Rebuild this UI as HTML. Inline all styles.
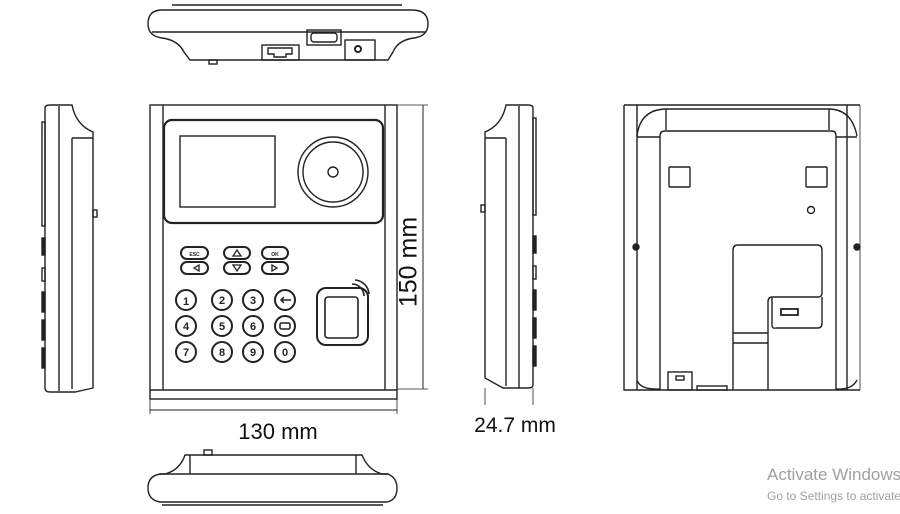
<!DOCTYPE html>
<html><head><meta charset="utf-8"><style>
html,body{margin:0;padding:0;background:#fff;width:900px;height:514px;overflow:hidden}
svg{display:block}
text{font-family:"Liberation Sans",sans-serif}
</style></head><body>
<svg width="900" height="514" viewBox="0 0 900 514" xmlns="http://www.w3.org/2000/svg">
<g fill="none" stroke="#222" stroke-width="1.4">
<!-- TOP VIEW -->
<line x1="172" y1="5" x2="402" y2="5"/>
<path d="M162 10 H412 Q428 10 428 24 Q428 36 414 38 Q398 40 393 52 L388 60 H190 L184 52 Q178 40 162 38 Q148 36 148 24 Q148 10 162 10 Z"/>
<line x1="152" y1="32" x2="425" y2="32"/>
<rect x="307" y="30" width="34" height="15"/>
<rect x="311" y="33" width="26" height="9" rx="3"/>
<rect x="262" y="45" width="37" height="15"/>
<path d="M268 48 h24 v6 h-6 v3 h-12 v-3 h-6z"/>
<rect x="345" y="40" width="30" height="20"/>
<circle cx="358" cy="49" r="3" stroke-width="2"/>
<rect x="209" y="60" width="8" height="4"/>

<!-- FRONT VIEW -->
<rect x="150" y="105" width="247" height="294"/>
<line x1="150" y1="390" x2="397" y2="390"/>
<line x1="163" y1="105" x2="163" y2="390"/>
<line x1="385" y1="105" x2="385" y2="390"/>
<rect x="164" y="120" width="219" height="103" rx="8" stroke-width="2.2"/>
<rect x="180" y="136" width="95" height="71"/>
<circle cx="333" cy="172" r="35"/>
<circle cx="333" cy="172" r="30"/>
<circle cx="333" cy="172" r="5"/>
<g stroke-width="2">
<rect x="181" y="247" width="27" height="12" rx="6"/>
<rect x="224" y="247" width="26" height="12" rx="6"/>
<rect x="262" y="247" width="26" height="12" rx="6"/>
<rect x="181" y="262" width="27" height="12" rx="6"/>
<rect x="224" y="262" width="26" height="12" rx="6"/>
<rect x="262" y="262" width="26" height="12" rx="6"/>
<circle cx="186" cy="300" r="10"/><circle cx="222" cy="300" r="10"/><circle cx="253" cy="300" r="10"/><circle cx="285" cy="300" r="10"/>
<circle cx="186" cy="326" r="10"/><circle cx="222" cy="326" r="10"/><circle cx="253" cy="326" r="10"/><circle cx="285" cy="326" r="10"/>
<circle cx="186" cy="352" r="10"/><circle cx="222" cy="352" r="10"/><circle cx="253" cy="352" r="10"/><circle cx="285" cy="352" r="10"/>
</g>
<path d="M233 256 l4 -6 l4 6z" stroke-width="1.3"/>
<path d="M233 265 l4 6 l4 -6z" stroke-width="1.3"/>
<path d="M199 265 l-5 3 l5 3z" stroke-width="1.3"/>
<path d="M272 265 l5 3 l-5 3z" stroke-width="1.3"/>
<path d="M291 300 h-10 m3 -3 l-3 3 l3 3" stroke-width="1.5"/>
<rect x="280" y="323" width="10" height="6" rx="1.5" stroke-width="1.5"/>
<rect x="317" y="288" width="51" height="57" rx="9" stroke-width="2"/>
<rect x="325" y="297" width="33" height="41" rx="3" stroke-width="1.6"/>
<path d="M352 284 A12 12 0 0 1 364 296" stroke-width="1.6"/>
<path d="M355 280 A15 15 0 0 1 369 294" stroke-width="1.6"/>
<!-- dims -->
<line x1="423" y1="105" x2="423" y2="389" stroke-width="1"/>
<line x1="397" y1="105" x2="428" y2="105" stroke-width="0.8"/>
<line x1="397" y1="389" x2="428" y2="389" stroke-width="0.8"/>
<line x1="150" y1="410" x2="397" y2="410" stroke-width="1"/>
<line x1="150" y1="399" x2="150" y2="414" stroke-width="0.8"/>
<line x1="397" y1="399" x2="397" y2="414" stroke-width="0.8"/>

<!-- LEFT SIDE VIEW -->
<path d="M45 108 Q45 105 50 105 H72 Q76 125 93 132 V388 L75 392 H50 Q45 392 45 388 Z"/>
<line x1="59" y1="106" x2="59" y2="391"/>
<line x1="72" y1="138" x2="72" y2="389"/>
<line x1="72" y1="138" x2="93" y2="138"/>
<rect x="93" y="210" width="4" height="7"/>
<rect x="42" y="122" width="3" height="104"/>
<rect x="42" y="238" width="3" height="17" fill="#222"/>
<rect x="42" y="268" width="3" height="13"/>
<rect x="42" y="292" width="3" height="20" fill="#222"/>
<rect x="42" y="320" width="3" height="20" fill="#222"/>
<rect x="42" y="348" width="3" height="20" fill="#222"/>

<!-- RIGHT SIDE VIEW -->
<path d="M533 108 Q533 105 528 105 H506 Q502 125 485 132 V378 L503 388 H528 Q533 388 533 385 Z"/>
<line x1="519" y1="106" x2="519" y2="388"/>
<line x1="506" y1="138" x2="506" y2="386"/>
<line x1="485" y1="138" x2="506" y2="138"/>
<rect x="481" y="205" width="4" height="7"/>
<rect x="533" y="118" width="3" height="97"/>
<rect x="533" y="236" width="3" height="17" fill="#222"/>
<rect x="533" y="266" width="3" height="13"/>
<rect x="533" y="290" width="3" height="20" fill="#222"/>
<rect x="533" y="318" width="3" height="20" fill="#222"/>
<rect x="533" y="346" width="3" height="20" fill="#222"/>
<line x1="485" y1="388" x2="485" y2="405" stroke-width="0.8"/>
<line x1="533" y1="388" x2="533" y2="405" stroke-width="0.8"/>

<!-- BACK VIEW -->
<path d="M624 105 H860 M624 105 V390 H860"/>
<line x1="860" y1="105" x2="860" y2="390" stroke-width="0.8"/>
<line x1="637" y1="105" x2="637" y2="390"/>
<line x1="847" y1="105" x2="847" y2="390"/>
<path d="M637 136 Q640 110 665 109 H830 Q852 110 857 136"/>
<line x1="637" y1="137" x2="660" y2="137"/>
<line x1="836" y1="137" x2="857" y2="137"/>
<line x1="666" y1="109" x2="666" y2="130"/>
<line x1="829" y1="109" x2="829" y2="130"/>
<path d="M660 390 V136 Q660 131 665 131 H832 Q836 131 836 136 V390"/>
<path d="M637 380 Q640 390 660 389 M836 389 Q852 390 857 380"/>
<rect x="669" y="167" width="21" height="20" rx="1"/>
<rect x="806" y="167" width="21" height="20" rx="1"/>
<circle cx="811" cy="210" r="3.5"/>
<path d="M733 390 V250 Q733 245 738 245 H817 Q822 245 822 250 V293 Q822 297 818 297 H772 Q768 297 768 302 V390"/>
<path d="M772 297 V325 Q772 329 776 328 H818 Q822 328 822 323 V297"/>
<line x1="733" y1="333" x2="768" y2="333"/>
<line x1="733" y1="343" x2="768" y2="343"/>
<rect x="781" y="309" width="17" height="6" stroke-width="1.8"/>
<rect x="668" y="372" width="24" height="18"/>
<rect x="676" y="376" width="8" height="4"/>
<rect x="697" y="386" width="30" height="4"/>
<circle cx="636" cy="247" r="3" fill="#222"/>
<circle cx="857" cy="247" r="3" fill="#222"/>

<!-- BOTTOM VIEW -->
<path d="M185 455 H362 Q368 470 382 474 H388 Q397 478 397 488 Q397 500 387 502 H160 Q148 500 148 488 Q148 476 160 474 H165 Q180 470 185 455 Z"/>
<line x1="190" y1="455" x2="190" y2="474"/>
<line x1="356" y1="455" x2="356" y2="474"/>
<line x1="160" y1="474" x2="388" y2="474"/>
<line x1="162" y1="505" x2="383" y2="505"/>
<rect x="204" y="450" width="8" height="5"/>
</g>
<g font-size="11" font-weight="bold" text-anchor="middle" fill="#222">
<text x="186" y="305">1</text><text x="222" y="304">2</text><text x="253" y="304">3</text>
<text x="186" y="330">4</text><text x="222" y="330">5</text><text x="253" y="330">6</text>
<text x="186" y="356">7</text><text x="222" y="356">8</text><text x="253" y="356">9</text><text x="285" y="356">0</text>
<text x="194.5" y="256" font-size="5">ESC</text><text x="275" y="256" font-size="5">OK</text>
</g>
<text x="410" y="262" font-size="25" text-anchor="middle" fill="#111" transform="rotate(-90 410 262)" dominant-baseline="middle">150 mm</text>
<text x="278" y="439" font-size="22" text-anchor="middle" fill="#111">130 mm</text>
<text x="515" y="432" font-size="21" text-anchor="middle" fill="#111">24.7 mm</text>
<text x="767" y="480" font-size="17" fill="#a0a0a0">Activate Windows</text>
<text x="767" y="500" font-size="12" fill="#a0a0a0">Go to Settings to activate Windows.</text>
</svg>
</body></html>
